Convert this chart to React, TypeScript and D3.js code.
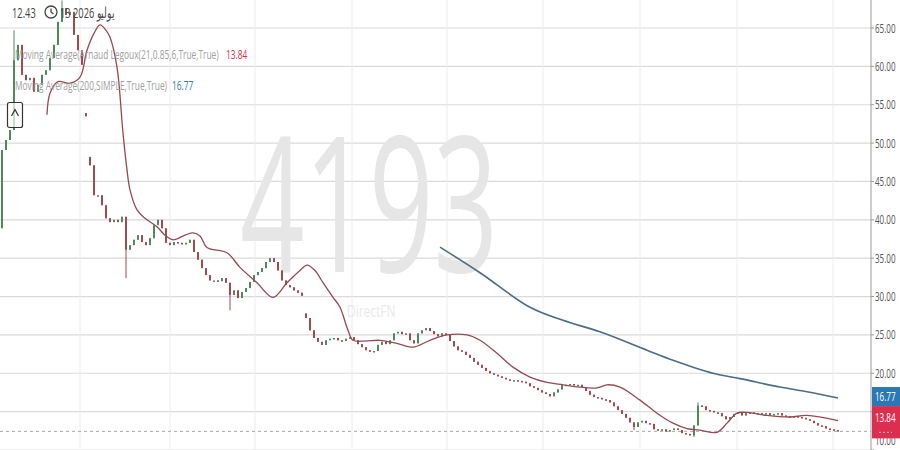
import React from 'react'
import * as d3 from 'd3'

// daily closes (one bar every ~4px)
const closes = [
  49.1, 50.4, 51.7, 60.8, 62.8, 58.9, 58.2, 58.5, 56.7, 57.6,
  58.9, 59.5, 61.1, 62.8, 65.8, 67.6, 66.7, 67.1, 64.1, 62.1,
  60.2, 53.5, 47.1, 43.2, 43.2, 41.9, 40.2, 39.7, 40.0, 39.7,
  40.4, 36.1, 36.7, 37.4, 38.0, 37.1, 36.7, 37.6, 39.3, 40.0,
  38.9, 37.0, 36.7, 37.1, 37.0, 36.8, 37.0, 37.4, 35.8, 34.8,
  33.7, 32.8, 32.1, 32.1, 32.0, 32.4, 31.8, 30.2, 30.8, 29.8,
  30.6, 31.1, 31.9, 32.8, 33.2, 33.7, 34.5, 35.0, 34.5, 33.4,
  32.1, 31.5, 31.2, 30.8, 30.5, 30.1, 27.2, 25.6, 24.6, 24.1,
  23.7, 24.3, 24.5, 24.6, 24.3, 24.2, 24.5, 24.7, 24.3, 23.8,
  23.4, 23.0, 22.8, 22.9, 23.7, 24.1, 23.8, 24.3, 25.2, 25.4,
  25.1, 25.2, 24.3, 23.9, 25.2, 25.6, 25.9, 25.5, 25.1, 24.8,
  25.2, 25.0, 24.2, 23.5, 23.0, 22.8, 22.4, 22.0, 21.5, 21.1,
  20.7, 20.3, 20.0, 19.8, 19.6, 19.4, 19.2, 19.1, 19.1, 19.0,
  18.9, 18.7, 18.3, 18.1, 17.8, 17.5, 17.3, 17.0, 17.5, 17.9,
  18.5, 18.5, 18.6, 18.5, 18.5, 18.2, 17.7, 17.2, 16.9, 16.8,
  16.6, 16.5, 16.2, 15.7, 15.2, 14.7, 14.2, 13.6, 13.0, 13.6,
  13.8, 13.5, 13.4, 12.7, 12.6, 12.7, 12.4, 12.6, 12.8, 12.6,
  12.2, 12.1, 11.9, 13.2, 15.8, 15.7, 15.2, 15.1, 14.9, 14.8,
  14.4, 14.0, 14.3, 14.7, 14.9, 14.5, 14.8, 14.9, 14.7, 14.8,
  14.7, 14.8, 14.5, 14.7, 14.8, 14.5, 14.4, 14.3, 14.4, 14.3,
  14.2, 14.0, 13.8, 13.5, 13.2, 13.1, 12.8, 12.7, 12.6, 12.43,
]
const firstOpen = 38.9
// bars that opened on a gap
const gapOpens: [number, number][] = [[21, 53.9], [22, 48.2], [76, 27.8]]
const highWicks: [number, number][] = [[3, 64.7], [15, 68.6], [174, 16.2]]
const lowWicks: [number, number][] = [[3, 56.3], [31, 32.4], [57, 28.2], [158, 12.6], [173, 11.7]]

// Arnaud Legoux MA (21, 0.85, 6)
const almaBars = [
  11.25, 12, 14, 17, 19.5, 21.25, 23, 24.5, 26, 27, 28.75, 30.25, 31.25, 32, 33.75,
  35.75, 38.75, 40.75, 42.75, 45.75, 47.75, 49.5, 51.25, 56.25, 59.5, 63.75, 67.75,
  71.25, 74.5, 76.25, 78.25, 80.25, 82.75, 84.5, 86.5, 87.75, 90.75, 94.5, 98.75,
  102.75, 107, 111.25, 116.25, 119.5, 123.75, 127.75, 132, 136.25, 140.25, 144.5,
  148.75, 151.25, 154.5, 159.5, 163.75, 167.75, 171.25, 174.5, 178.75, 181.25,
  183.75, 186.25, 191.25, 197, 201.25, 209,
]
const almaValues = [
  53.7, 56.5, 58.0, 57.8, 58.6, 62.1, 64.3, 65.4, 64.7, 63.8, 59.9, 51.3, 46.5, 43.9, 41.3,
  40.2, 39.1, 38.0, 37.4, 38.0, 38.3, 37.9, 36.4, 35.7, 33.8, 31.8, 29.9,
  31.8, 33.4, 34.1, 33.4, 31.8, 29.9, 28.6, 25.6, 24.3, 24.2, 24.3, 23.9,
  23.4, 24.3, 25.0, 25.0, 24.3, 22.6, 20.8, 19.5, 18.8, 18.5, 18.2,
  18.1, 18.5, 18.2, 16.5, 14.8, 13.5, 12.8, 12.6, 12.3, 13.5,
  14.8, 14.9, 14.5, 14.3, 14.5, 13.84,
]

// 200 day simple MA
const smaBars = [109.5, 119.5, 132, 140.25, 149.5, 161.25, 167.75, 177.75, 184.5, 194.5, 201.25, 209]
const smaValues = [36.45, 33.1, 28.6, 26.9, 25.4, 23.0, 21.7, 20.0, 19.3, 18.2, 17.6, 16.77]

const monthBars = [19.5, 42, 63.25, 87.5, 111.25, 135.25, 159.5, 183.75, 207.75]
const yTicks = [10, 15, 20, 25, 30, 35, 40, 45, 50, 55, 60, 65]

const symbol = '4193'
const headerDate = '13 2026 يوليو'
const almaLabel = 'Moving Average(Arnaud Legoux(21,0.85,6,True,True)'
const smaLabel = 'Moving Average(200,SIMPLE,True,True)'

const W = 900
const H = 450
const axisX = 871
const squeeze = 0.62 // the screenshot is squashed sideways
const font = '"Open Sans", Arial, sans-serif'

const upColor = '#4e8a5d'
const downColor = '#a24a50'
const almaColor = '#964a50'
const smaColor = '#4b6d86'
const almaBox = '#dc2f4f'
const smaBox = '#2a78b4'

const SqText = ({ x, y, size, fill, children, weight = 400 }:
  { x: number, y: number, size: number, fill: string, children: React.ReactNode, weight?: number }) => (
  <text transform={`translate(${x},${y}) scale(${squeeze},1)`} fontSize={size} fontWeight={weight}
    fill={fill} dy="0.35em">{children}</text>
)

export default function App() {
  const x = d3.scaleLinear().domain([0, closes.length - 1]).range([2, 838])
  const y = d3.scaleLinear().domain([10, 65]).range([450, 28])

  const almaPath = d3.line<number>()
    .x((_, i) => x(almaBars[i]))
    .y(d => y(d))
    .curve(d3.curveCatmullRom)(almaValues)
  const smaPath = d3.line<number>()
    .x((_, i) => x(smaBars[i]))
    .y(d => y(d))
    .curve(d3.curveCatmullRom)(smaValues)

  const gapMap = new Map(gapOpens)
  const highMap = new Map(highWicks)
  const lowMap = new Map(lowWicks)
  const candles = closes.map((c, i) => {
    const o = gapMap.get(i) ?? (i === 0 ? firstOpen : closes[i - 1])
    const hi = Math.max(o, c, highMap.get(i) ?? 0)
    const lo = Math.min(o, c, lowMap.get(i) ?? 999)
    return { i, o, c, hi, lo }
  })

  const last = closes[closes.length - 1]
  const lastAlma = almaValues[almaValues.length - 1]
  const lastSma = smaValues[smaValues.length - 1]
  const fmt = d3.format('.2f')

  // price boxes on the axis hide the tick labels behind them
  const boxTop = y(lastSma) - 11
  const boxBottom = y(last) + 7
  const labelTicks = yTicks.filter(t => y(t) < boxTop - 4 || y(t) > boxBottom + 4)

  return (
    <svg width={W} height={H} style={{ position: 'absolute', left: 0, top: 0, background: '#fff' }}
      fontFamily={font}>
      <defs>
        <clipPath id="plot"><rect x={0} y={0} width={axisX} height={H} /></clipPath>
      </defs>

      {/* grid */}
      {yTicks.map(t => (
        <line key={'h' + t} x1={0} x2={axisX} y1={y(t)} y2={y(t)} stroke="#dadada" strokeWidth={1.2} />
      ))}
      {monthBars.map(b => (
        <line key={'v' + b} x1={x(b)} x2={x(b)} y1={0} y2={H} stroke="#ececec" strokeWidth={1} />
      ))}

      {/* watermark */}
      <text transform={`translate(240,272) scale(0.6,1)`} fontSize={188} fill="#e6e6e6">{symbol}</text>
      <text transform={`translate(347,317) scale(0.75,1)`} fontSize={16} fill="#e9e9e9">DirectFN</text>

      <g clipPath="url(#plot)">
        {/* last price */}
        <line x1={0} x2={axisX} y1={y(last)} y2={y(last)} stroke="#a8a8a8" strokeDasharray="3,3" />

        {candles.map(d => {
          const col = d.c >= d.o ? upColor : downColor
          const top = y(Math.max(d.o, d.c))
          const h = Math.max(1.5, Math.abs(y(d.o) - y(d.c)))
          return (
            <g key={d.i}>
              <line x1={x(d.i)} x2={x(d.i)} y1={y(d.hi)} y2={y(d.lo)} stroke={col} strokeWidth={1} />
              <rect x={x(d.i) - 1} y={top} width={2} height={h} fill={col} />
            </g>
          )
        })}

        <path d={almaPath ?? ''} fill="none" stroke={almaColor} strokeWidth={1.3} />
        <path d={smaPath ?? ''} fill="none" stroke={smaColor} strokeWidth={1.6} />
      </g>

      {/* header */}
      <SqText x={12} y={13} size={15} fill="#454545">{fmt(last)}</SqText>
      <g transform="translate(51,12)" fill="none" stroke="#454545" strokeWidth={1.3}>
        <circle r={6} />
        <path d="M0,-3.5V0L2.5,2" />
      </g>
      <SqText x={60} y={13} size={15} fill="#454545">{headerDate}</SqText>

      <SqText x={15} y={54} size={13.5} fill="#a0a0a0">{almaLabel}</SqText>
      <SqText x={226} y={54} size={13.5} fill={almaBox}>{fmt(lastAlma)}</SqText>
      <SqText x={15} y={85} size={13.5} fill="#a0a0a0">{smaLabel}</SqText>
      <SqText x={172} y={85} size={13.5} fill={smaBox}>{fmt(lastSma)}</SqText>

      {/* collapse button */}
      <rect x={7.5} y={102.5} width={15} height={25} rx={2} fill="#fff" fillOpacity={0.7} stroke="#333" strokeWidth={1.2} />
      <path d="M11.5,116 L15,109.5 L18.5,116" fill="none" stroke="#333" strokeWidth={1.2} />

      {/* y axis */}
      <line x1={axisX} x2={axisX} y1={0} y2={H} stroke="#9a9a9a" />
      {yTicks.map(t => (
        <line key={'k' + t} x1={axisX} x2={axisX + 3} y1={y(t)} y2={y(t)} stroke="#9a9a9a" />
      ))}
      {labelTicks.map(t => (
        <SqText key={'t' + t} x={875} y={Math.min(y(t), H - 10)} size={13} fill="#555">{fmt(t)}</SqText>
      ))}

      {/* price labels */}
      <rect x={axisX + 1} y={boxTop} width={W - axisX} height={19} fill={smaBox} />
      <SqText x={875} y={y(lastSma) - 1.5} size={13} fill="#fff">{fmt(lastSma)}</SqText>
      <rect x={axisX + 1} y={boxTop + 19} width={W - axisX} height={boxBottom - boxTop - 19} fill={almaBox} />
      <SqText x={875} y={y(lastAlma) - 3} size={13} fill="#fff">{fmt(lastAlma)}</SqText>
      <line x1={879} x2={892} y1={y(last) + 1} y2={y(last) + 1} stroke="#f5b5c0" strokeDasharray="2,2" />
    </svg>
  )
}
